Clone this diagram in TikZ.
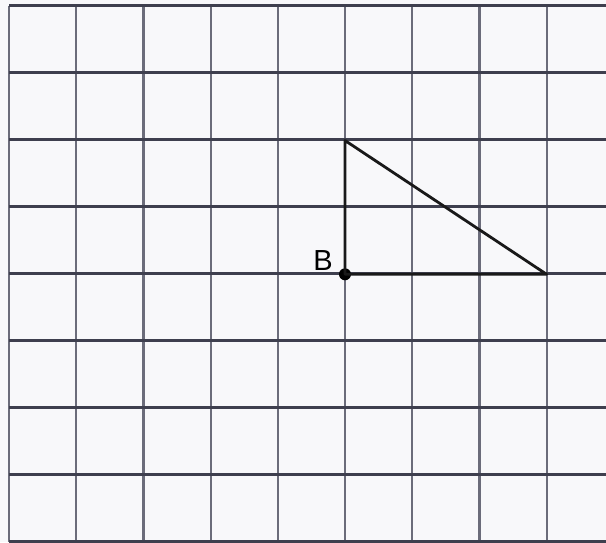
\documentclass[tikz,border=0pt]{standalone}
\usepackage{fontspec}
\setmainfont{Liberation Sans}
\definecolor{hgrid}{HTML}{3E3F4E}
\definecolor{vgrid}{HTML}{6B6C7A}
\definecolor{paper}{HTML}{F8F8FA}
\begin{document}
\begin{tikzpicture}[x=1pt,y=-1pt,
  hline/.style={draw=hgrid,line width=2.2pt},
  vline/.style={draw=vgrid,line width=2.2pt},
  edge/.style={draw=black!90,line width=2.8pt},
  dot/.style={circle,fill=black,inner sep=0pt,minimum size=12pt}]
\fill[paper] (0,0) rectangle (606,542);
\useasboundingbox (0,0) rectangle (606,542);
\foreach \i in {0,...,8} {
  \draw[vline] ({9+67.2*\i},5.5) -- ({9+67.2*\i},542);
}
\foreach \j in {0,...,8} {
  \draw[hline] (9,{5.5+67*\j}) -- (606,{5.5+67*\j});
}
\coordinate (T) at (345,140.5);
\coordinate (R) at (546.6,274.3);
\node[dot] (B) at (345,274.3) {};
\draw[edge,line join=round] (T) -- (B.center) -- (R) -- cycle;
\node[font=\fontsize{29}{29}\selectfont,anchor=south east,inner sep=0pt] (Blabel) at (333,271) {B};
\end{tikzpicture}
\end{document}
